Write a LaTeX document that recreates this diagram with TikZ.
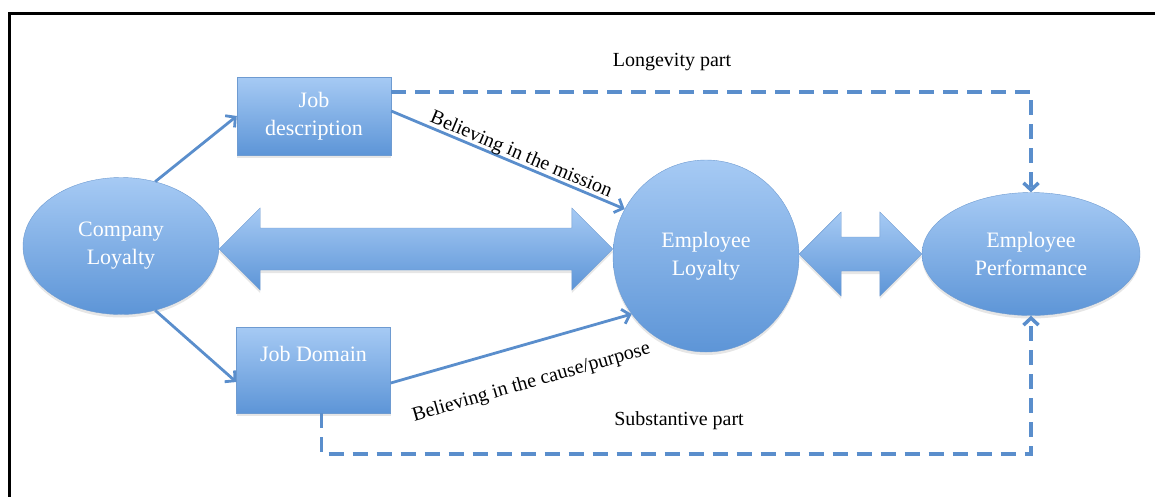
\documentclass[tikz,border=0pt]{standalone}
\usepackage{fontspec}
\setmainfont{Liberation Serif}
\usetikzlibrary{arrows.meta,positioning,shapes.geometric,calc,shadows}
\definecolor{loyaltop}{HTML}{A6CAF4}
\definecolor{loyalbottom}{HTML}{5D95D7}
\definecolor{loyalline}{HTML}{6E9BD1}
\definecolor{loyalarrow}{HTML}{5A8ECC}

% fat two-headed arrow: from, to, head length, head half width, shaft half width
\newcommand{\fatarrow}[5]{%
  \path[fat] (#1) -- ++(#3,-#4) -- ++(0,#4-#5) -- ($(#2)+(-#3,-#5)$) -- ++(0,#5-#4) -- (#2)
    -- ++(-#3,#4) -- ++(0,#5-#4) -- ($(#1)+(#3,#5)$) -- ++(0,#4-#5) -- cycle;}

\begin{document}
\begin{tikzpicture}[x=1pt, y=-1pt,
  bubble/.style={ellipse, draw=loyalline, top color=loyaltop, bottom color=loyalbottom, text=white, align=center, inner sep=0pt, font=\fontsize{22}{28}\selectfont, drop shadow={opacity=0.2, shadow xshift=0pt, shadow yshift=-3pt}},
  jobbox/.style={rectangle, draw=loyalline, top color=loyaltop, bottom color=loyalbottom, text=white, align=center, minimum width=154pt, font=\fontsize{22}{28}\selectfont, drop shadow={opacity=0.2, shadow xshift=0pt, shadow yshift=-3pt}},
  fat/.style={draw=loyalline, top color=loyaltop, bottom color=loyalbottom, drop shadow={opacity=0.2, shadow xshift=0pt, shadow yshift=-3pt}},
  arrow/.style={-{Straight Barb[length=7pt,width=15pt]}, line width=2.8pt, draw=loyalarrow},
  dasharrow/.style={arrow, line width=3.5pt, dash pattern=on 15pt off 9pt},
  note/.style={font=\fontsize{20}{24}\selectfont, text=black}
]
\useasboundingbox (0,0) rectangle (1155,496);
\draw[line width=3pt] (9,520) -- (9,13) -- (1180,13);

\node[bubble, minimum width=196pt, minimum height=137pt] (cl) at (121,246) {Company\\Loyalty};
\node[jobbox, minimum height=78pt] (jd) at (314,116) {Job\\description};
\node[jobbox, minimum height=86pt] (jdm) at (313.5,370) {Job Domain\\\phantom{description}};
\node[bubble, minimum width=186pt, minimum height=192pt] (el) at (706,256) {Employee\\Loyalty};
\node[bubble, minimum width=218pt, minimum height=123pt] (ep) at (1031,254) {Employee\\Performance};

\node[note] (longevity) at (672,62) {Longevity part};
\node[note] (substantive) at (679,421) {Substantive part};

% two-way links
\coordinate (a1) at (cl.east |- 0,249);
\coordinate (a2) at (el.west |- 0,249);
\coordinate (b1) at (el.east |- ep.west);
\fatarrow{a1}{a2}{41}{41}{21}
\fatarrow{b1}{ep.west}{42}{42}{17}

\draw[arrow] (cl.62) -- (jd.west);
\draw[arrow] (cl.-62) -- ([yshift=-12pt]jdm.west);
\draw[arrow] ([yshift=5pt]jd.east) -- node[note, sloped, anchor=south, inner sep=0pt, yshift=-1pt, pos=0.54] {Believing in the mission} (el.150);
\draw[arrow] ([yshift=-13pt]jdm.east) -- node[note, sloped, anchor=north, inner sep=0pt, yshift=-28pt, pos=0.54] {Believing in the cause/purpose} (el.-142);

\draw[dasharrow] ([yshift=24pt]jd.east) -| (ep.north);
\draw[dasharrow] ([xshift=8pt]jdm.south) -- ++(0,41) -| (ep.south);
\end{tikzpicture}
\end{document}
